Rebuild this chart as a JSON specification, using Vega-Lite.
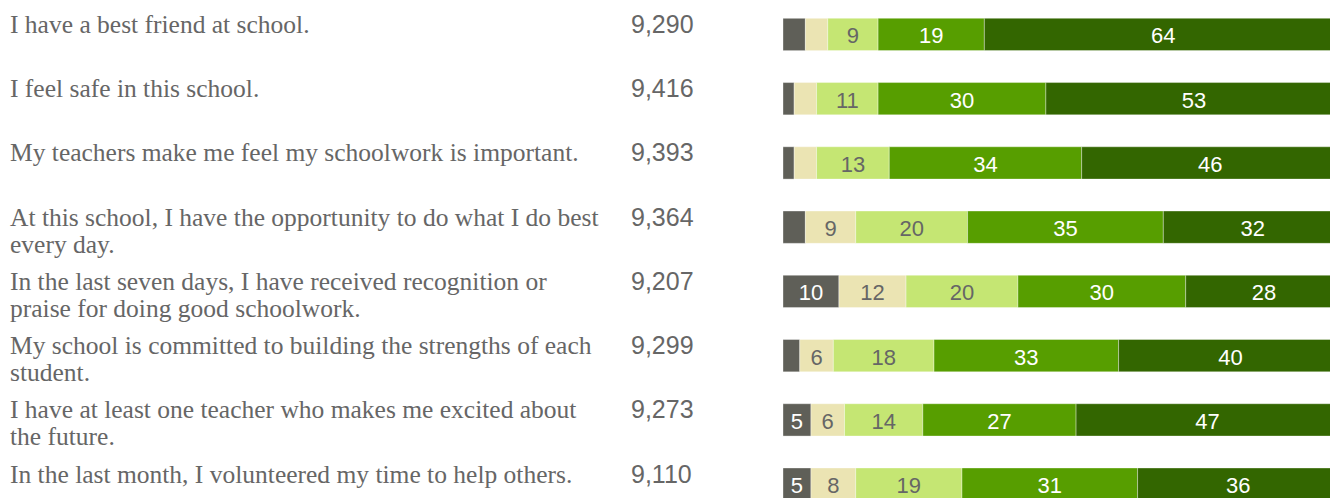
{
  "$schema": "https://vega.github.io/schema/vega-lite/v6.json",
  "background": "white",
  "padding": {"left": 10, "top": 0, "right": 0, "bottom": 0},
  "spacing": 10,
  "config": {"view": {"stroke": null}},
  "datasets": {
    "rows": [
      {"r": "q1", "label": "I have a best friend at school.", "n": 9290},
      {"r": "q2", "label": "I feel safe in this school.", "n": 9416},
      {"r": "q3", "label": "My teachers make me feel my schoolwork is important.", "n": 9393},
      {"r": "q4", "label": "At this school, I have the opportunity to do what I do best\nevery day.", "n": 9364},
      {"r": "q5", "label": "In the last seven days, I have received recognition or\npraise for doing good schoolwork.", "n": 9207},
      {"r": "q6", "label": "My school is committed to building the strengths of each\nstudent.", "n": 9299},
      {"r": "q7", "label": "I have at least one teacher who makes me excited about\nthe future.", "n": 9273},
      {"r": "q8", "label": "In the last month, I volunteered my time to help others.", "n": 9110}
    ],
    "segs": [
      {"r": "q1", "cat": "1", "pct": 4}, {"r": "q1", "cat": "2", "pct": 4}, {"r": "q1", "cat": "3", "pct": 9}, {"r": "q1", "cat": "4", "pct": 19}, {"r": "q1", "cat": "5", "pct": 64},
      {"r": "q2", "cat": "1", "pct": 2}, {"r": "q2", "cat": "2", "pct": 4}, {"r": "q2", "cat": "3", "pct": 11}, {"r": "q2", "cat": "4", "pct": 30}, {"r": "q2", "cat": "5", "pct": 53},
      {"r": "q3", "cat": "1", "pct": 2}, {"r": "q3", "cat": "2", "pct": 4}, {"r": "q3", "cat": "3", "pct": 13}, {"r": "q3", "cat": "4", "pct": 34.4}, {"r": "q3", "cat": "5", "pct": 46},
      {"r": "q4", "cat": "1", "pct": 4}, {"r": "q4", "cat": "2", "pct": 9}, {"r": "q4", "cat": "3", "pct": 20}, {"r": "q4", "cat": "4", "pct": 35}, {"r": "q4", "cat": "5", "pct": 32},
      {"r": "q5", "cat": "1", "pct": 10}, {"r": "q5", "cat": "2", "pct": 12}, {"r": "q5", "cat": "3", "pct": 20}, {"r": "q5", "cat": "4", "pct": 30}, {"r": "q5", "cat": "5", "pct": 28},
      {"r": "q6", "cat": "1", "pct": 3}, {"r": "q6", "cat": "2", "pct": 6}, {"r": "q6", "cat": "3", "pct": 18}, {"r": "q6", "cat": "4", "pct": 33}, {"r": "q6", "cat": "5", "pct": 40},
      {"r": "q7", "cat": "1", "pct": 5}, {"r": "q7", "cat": "2", "pct": 6}, {"r": "q7", "cat": "3", "pct": 14}, {"r": "q7", "cat": "4", "pct": 27.4}, {"r": "q7", "cat": "5", "pct": 47},
      {"r": "q8", "cat": "1", "pct": 5}, {"r": "q8", "cat": "2", "pct": 8}, {"r": "q8", "cat": "3", "pct": 19}, {"r": "q8", "cat": "4", "pct": 31.4}, {"r": "q8", "cat": "5", "pct": 36}
    ]
  },
  "hconcat": [
    {
      "width": 611,
      "height": 498,
      "data": {"name": "rows"},
      "mark": {"type": "text", "align": "left", "baseline": "alphabetic", "dy": -1.5, "font": "Liberation Serif", "fontSize": 25.5, "lineHeight": 27, "lineBreak": "\n", "color": "#666666"},
      "encoding": {
        "x": {"value": 0},
        "y": {"field": "r", "type": "nominal", "sort": null, "axis": null,
              "scale": {"type": "band", "paddingInner": 0.497, "paddingOuter": 0.285, "range": [0, 518.6]}},
        "text": {"field": "label"}
      }
    },
    {
      "width": 142,
      "height": 498,
      "data": {"name": "rows"},
      "mark": {"type": "text", "align": "left", "baseline": "alphabetic", "dy": -1.5, "font": "Liberation Sans", "fontSize": 25, "color": "#666666"},
      "encoding": {
        "x": {"value": 0},
        "y": {"field": "r", "type": "nominal", "sort": null, "axis": null,
              "scale": {"type": "band", "paddingInner": 0.497, "paddingOuter": 0.285, "range": [0, 518.6]}},
        "text": {"field": "n", "type": "quantitative", "format": ","}
      }
    },
    {
      "width": 547,
      "height": 498,
      "data": {"name": "segs"},
      "encoding": {
        "y": {"field": "r", "type": "nominal", "sort": null, "axis": null,
              "scale": {"type": "band", "paddingInner": 0.497, "paddingOuter": 0.285, "range": [0, 518.6]}}
      },
      "layer": [
        {
          "mark": {"type": "bar", "clip": true, "stroke": "#ffffff", "strokeWidth": 1, "strokeOpacity": 0.35},
          "encoding": {
            "x": {"field": "pct", "type": "quantitative", "stack": "zero", "axis": null, "scale": {"domain": [0, 97.8], "nice": false}},
            "color": {"field": "cat", "type": "nominal", "legend": null,
                      "scale": {"domain": ["1", "2", "3", "4", "5"], "range": ["#5f5f58", "#ebe4b3", "#c5e673", "#579e00", "#336600"]}},
            "order": {"field": "cat"}
          }
        },
        {
          "mark": {"type": "text", "baseline": "middle", "dy": 2, "font": "Liberation Sans", "fontSize": 22, "clip": true},
          "encoding": {
            "x": {"field": "pct", "type": "quantitative", "stack": "zero", "bandPosition": 0.5, "axis": null, "scale": {"domain": [0, 97.8], "nice": false}},
            "detail": {"field": "cat"},
            "order": {"field": "cat"},
            "text": {"condition": {"test": "datum.pct < 5", "value": ""}, "field": "pct", "type": "quantitative", "format": ".0f"},
            "color": {"condition": {"test": "datum.cat === '2' || datum.cat === '3'", "value": "#666666"}, "value": "#ffffff"}
          }
        }
      ]
    }
  ]
}
